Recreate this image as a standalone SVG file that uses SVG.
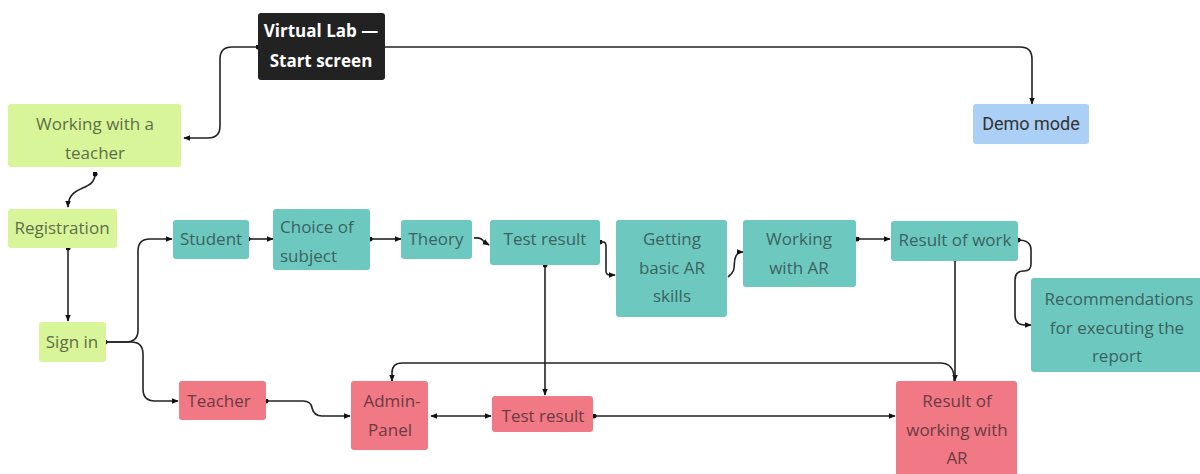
<svg xmlns="http://www.w3.org/2000/svg" width="1200" height="474" viewBox="0 0 1200 474">
<style>
text{font-family:"Open Sans","Noto Sans","Liberation Sans",sans-serif;font-size:17px;text-anchor:middle}
text.l{text-anchor:start}
.g rect{fill:#d8f59a}
.g text{fill:#5f6e45}
.t rect{fill:#6dc9c0}
.t text{fill:#3b625e}
.p rect{fill:#f07985}
.p text{fill:#6d3a41}
.c path{fill:none;stroke:#222;stroke-width:1.6}
</style>
<defs>
<marker id="a" viewBox="0 0 10 10" refX="9" refY="5" markerWidth="7" markerHeight="7" orient="auto-start-reverse" markerUnits="userSpaceOnUse"><path d="M0,1 L10,5 L0,9 z" fill="#111"/></marker>
<marker id="d" viewBox="0 0 10 10" refX="5" refY="5" markerWidth="5" markerHeight="5" markerUnits="userSpaceOnUse"><circle cx="5" cy="5" r="5" fill="#111"/></marker>
</defs>
<rect width="1200" height="474" fill="#fff"/>
<g class="c">
<path d="M258,47 H232 Q220,47 220,59 V126 Q220,138 208,138 H184" marker-start="url(#d)" marker-end="url(#a)"/>
<path d="M385,47 H1020 Q1032,47 1032,59 V104" marker-end="url(#a)"/>
<path d="M95,174 C95,192 68,184 68,207" marker-start="url(#d)" marker-end="url(#a)"/>
<path d="M68,248 V321" marker-start="url(#d)" marker-end="url(#a)"/>
<path d="M105,342 H126 Q138,342 138,330 V251 Q138,239 150,239 H172" marker-start="url(#d)" marker-end="url(#a)"/>
<path d="M105,342 H131 Q143,342 143,354 V389 Q143,401 155,401 H178" marker-end="url(#a)"/>
<path d="M248,239 H273" marker-start="url(#d)" marker-end="url(#a)"/>
<path d="M370,239 H401" marker-start="url(#d)" marker-end="url(#a)"/>
<path d="M474,238 Q482,237 484,242 L489,245" marker-end="url(#a)"/>
<path d="M600,242 H603 Q606,242 606,246 V271 Q606,275 610,275 H615" marker-start="url(#d)" marker-end="url(#a)"/>
<path d="M728,277 C738,270 732,263 736,256 C738,252 740,252 743,252" marker-end="url(#a)"/>
<path d="M857,239 H890" marker-start="url(#d)" marker-end="url(#a)"/>
<path d="M1018,240 Q1031,240 1031,250 V264 Q1031,271 1024,271 Q1015,271 1015,280 V315 Q1015,325 1025,325 H1031" marker-start="url(#d)" marker-end="url(#a)"/>
<path d="M545,265 V395" marker-start="url(#d)" marker-end="url(#a)"/>
<path d="M955,259 V381" marker-start="url(#d)" marker-end="url(#a)"/>
<path d="M954,381 V375 Q952,363 940,363 H402 Q392,363 392,373 V381" marker-end="url(#a)"/>
<path d="M431,416 H491" marker-start="url(#a)" marker-end="url(#a)"/>
<path d="M266,401 H303 Q311,401 312,408 Q314,416 322,416 H350" marker-start="url(#d)" marker-end="url(#a)"/>
<path d="M594,416 H895" marker-start="url(#d)" marker-end="url(#a)"/>
</g>
<g id="n-start"><rect x="258" y="13" width="127" height="67" rx="3" fill="#222"/><text x="321" y="37" fill="#fff" font-weight="bold">Virtual Lab —</text><text x="321" y="67" fill="#fff" font-weight="bold">Start screen</text></g>
<g id="n-teacherwork" class="g"><rect x="8" y="104" width="173" height="63" rx="3"/><text x="95" y="130">Working with a</text><text x="95" y="159">teacher</text></g>
<g id="n-demo"><rect x="973" y="104" width="116" height="40" rx="3" fill="#abcff5"/><text x="1031" y="130" fill="#333" style="font-family:Roboto,'Liberation Sans',sans-serif;font-size:18px">Demo mode</text></g>
<g id="n-reg" class="g"><rect x="8" y="209" width="109" height="39" rx="3"/><text x="62" y="234">Registration</text></g>
<g id="n-sign" class="g"><rect x="39" y="322" width="67" height="40" rx="3"/><text x="72" y="348">Sign in</text></g>
<g id="n-student" class="t"><rect x="173" y="220" width="76" height="39" rx="3"/><text x="211" y="245">Student</text></g>
<g id="n-choice" class="t"><rect x="273" y="209" width="97" height="61" rx="3"/><text class="l" x="280" y="233">Choice of</text><text class="l" x="280" y="262">subject</text></g>
<g id="n-theory" class="t"><rect x="401" y="220" width="71" height="39" rx="3"/><text x="436" y="245">Theory</text></g>
<g id="n-test1" class="t"><rect x="490" y="220" width="110" height="45" rx="3"/><text x="545" y="245">Test result</text></g>
<g id="n-basic" class="t"><rect x="616" y="220" width="111" height="97" rx="3"/><text x="672" y="245">Getting</text><text x="672" y="274">basic AR</text><text x="672" y="302">skills</text></g>
<g id="n-workar" class="t"><rect x="743" y="220" width="113" height="67" rx="3"/><text x="799" y="245">Working</text><text x="799" y="274">with AR</text></g>
<g id="n-result" class="t"><rect x="891" y="221" width="127" height="40" rx="3"/><text x="955" y="246">Result of work</text></g>
<g id="n-rec" class="t"><rect x="1031" y="278" width="175" height="94" rx="3"/><text x="1119" y="305">Recommendations</text><text x="1117" y="334">for executing the</text><text x="1117" y="362">report</text></g>
<g id="n-teacher" class="p"><rect x="179" y="381" width="87" height="39" rx="3"/><text x="219" y="407">Teacher</text></g>
<g id="n-admin" class="p"><rect x="351" y="381" width="77" height="69" rx="3"/><text x="392" y="407">Admin-</text><text x="390" y="436">Panel</text></g>
<g id="n-test2" class="p"><rect x="492" y="396" width="101" height="36" rx="3"/><text x="543" y="422">Test result</text></g>
<g id="n-resar" class="p"><rect x="896" y="381" width="121" height="98" rx="3"/><text x="957" y="407">Result of</text><text x="957" y="436">working with</text><text x="957" y="464">AR</text></g>
</svg>
